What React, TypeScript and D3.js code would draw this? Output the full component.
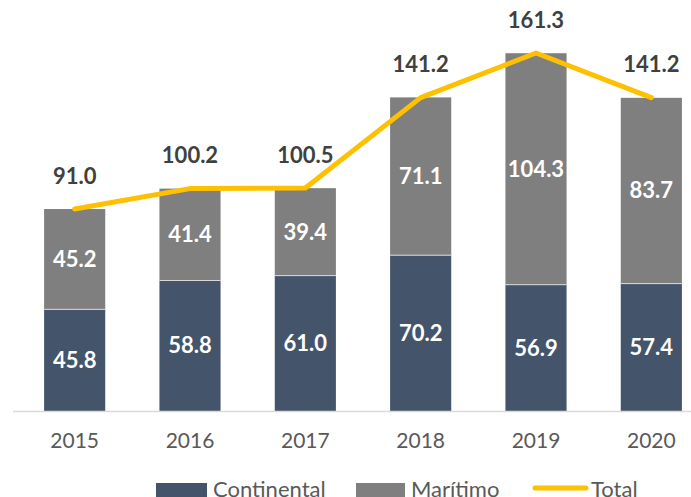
import React from "react";
import * as d3 from "d3";

const years = ["2015", "2016", "2017", "2018", "2019", "2020"];
const continental = [45.8, 58.8, 61.0, 70.2, 56.9, 57.4];
const maritimo = [45.2, 41.4, 39.4, 71.1, 104.3, 83.7];
const total = [91.0, 100.2, 100.5, 141.2, 161.3, 141.2];

const W = 691;
const H = 497;
const FONT = "Lato, 'Open Sans', sans-serif";

export default function App() {
  const x = d3.scaleBand().domain(years).range([17, 709]).paddingInner(0.47).paddingOuter(0.235);
  const y = d3.scaleLinear().domain([0, 161.3]).range([411, 53]);
  const bw = x.bandwidth();
  const cx = (yr: string) => (x(yr) as number) + bw / 2;

  const line = d3
    .line<number>()
    .x((_, i) => cx(years[i]))
    .y((d) => y(d));

  return (
    <svg width={W} height={H} style={{ position: "fixed", left: 0, top: 0 }} fontFamily={FONT}>
      <rect width={W} height={H} fill="#fff" />
      {years.map((yr, i) => {
        const c0 = y(continental[i]);
        const m1 = y(continental[i] + maritimo[i]);
        return (
          <g key={yr}>
            <rect x={x(yr)} y={c0} width={bw} height={411 - c0} fill="#44546a" />
            <rect x={x(yr)} y={m1} width={bw} height={c0 - m1} fill="#7f7f7f" />
            <line x1={x(yr)} x2={(x(yr) as number) + bw} y1={c0} y2={c0} stroke="#d9d9d9" strokeWidth={1} />
            <text x={cx(yr)} y={(411 + c0) / 2} dy="0.35em" textAnchor="middle" fill="#fff" fontWeight="bold" fontSize={22}>
              {continental[i].toFixed(1)}
            </text>
            <text x={cx(yr)} y={(c0 + m1) / 2} dy="0.35em" textAnchor="middle" fill="#fff" fontWeight="bold" fontSize={22}>
              {maritimo[i].toFixed(1)}
            </text>
            <text x={cx(yr)} y={y(total[i]) - 33} dy="0.35em" textAnchor="middle" fill="#404040" fontWeight="bold" fontSize={22}>
              {total[i].toFixed(1)}
            </text>
            <text x={cx(yr)} y={441} dy="0.35em" textAnchor="middle" fill="#595959" fontSize={21}>
              {yr}
            </text>
          </g>
        );
      })}
      <line x1={13} x2={W} y1={411.5} y2={411.5} stroke="#d9d9d9" strokeWidth={1.5} />
      <path d={line(total) || ""} fill="none" stroke="#ffc000" strokeWidth={5} strokeLinejoin="round" strokeLinecap="round" />
      <g fontSize={22} fill="#595959">
        <rect x={156} y={483} width={51} height={14} fill="#44546a" />
        <text x={213} y={489} dy="0.35em">Continental</text>
        <rect x={356} y={483} width={49} height={14} fill="#7f7f7f" />
        <text x={411} y={489} dy="0.35em">Marítimo</text>
        <line x1={535} x2={586} y1={488} y2={488} stroke="#ffc000" strokeWidth={5} strokeLinecap="round" />
        <text x={591} y={489} dy="0.35em">Total</text>
      </g>
    </svg>
  );
}
